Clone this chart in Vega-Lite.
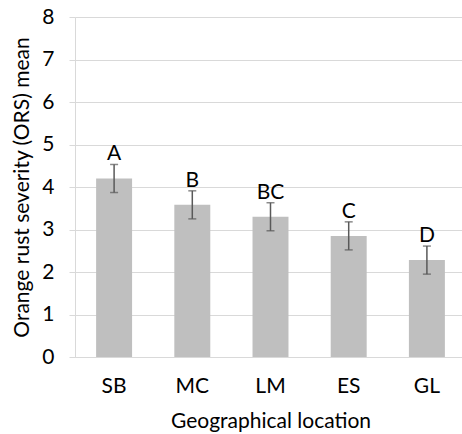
{
  "$schema": "https://vega.github.io/schema/vega-lite/v6.json",
  "width": 387,
  "height": 340,
  "autosize": "none",
  "padding": {"left": 75, "top": 17, "right": 0, "bottom": 77},
  "background": "white",
  "config": {
    "font": "Lato",
    "view": {"stroke": null},
    "axis": {
      "labelFontSize": 21,
      "labelColor": "#000000",
      "titleFontSize": 21,
      "titleFontWeight": "normal",
      "titleColor": "#000000",
      "domainColor": "#d9d9d9",
      "tickColor": "#d9d9d9",
      "gridColor": "#d9d9d9"
    }
  },
  "data": {
    "values": [
      {"location": "SB", "mean": 4.2, "lower": 3.87, "upper": 4.53, "group": "A"},
      {"location": "MC", "mean": 3.58, "lower": 3.25, "upper": 3.91, "group": "B"},
      {"location": "LM", "mean": 3.3, "lower": 2.97, "upper": 3.63, "group": "BC"},
      {"location": "ES", "mean": 2.85, "lower": 2.52, "upper": 3.18, "group": "C"},
      {"location": "GL", "mean": 2.28, "lower": 1.95, "upper": 2.61, "group": "D"}
    ]
  },
  "encoding": {
    "x": {
      "field": "location",
      "type": "nominal",
      "sort": null,
      "scale": {"range": [0, 391], "paddingInner": 0.54, "paddingOuter": 0.27},
      "axis": {
        "title": "Geographical location",
        "labelAngle": 0,
        "ticks": false,
        "labelPadding": 18,
        "titlePadding": 14
      }
    }
  },
  "layer": [
    {
      "mark": {"type": "bar", "color": "#bfbfbf"},
      "encoding": {
        "y": {
          "field": "mean",
          "type": "quantitative",
          "scale": {"domain": [0, 8], "nice": false},
          "axis": {
            "title": "Orange rust severity (ORS) mean",
            "values": [0, 1, 2, 3, 4, 5, 6, 7, 8],
            "grid": true,
            "tickSize": 6,
            "labelPadding": 15,
            "titlePadding": 9
          }
        }
      }
    },
    {
      "mark": {"type": "rule", "color": "#595959", "strokeWidth": 1.5},
      "encoding": {
        "y": {"field": "lower", "type": "quantitative"},
        "y2": {"field": "upper"}
      }
    },
    {
      "mark": {"type": "tick", "color": "#595959", "size": 8, "thickness": 1.5},
      "encoding": {"y": {"field": "lower", "type": "quantitative"}}
    },
    {
      "mark": {"type": "tick", "color": "#595959", "size": 8, "thickness": 1.5},
      "encoding": {"y": {"field": "upper", "type": "quantitative"}}
    },
    {
      "mark": {"type": "text", "fontSize": 21, "color": "#000000", "baseline": "alphabetic", "dy": -4},
      "encoding": {
        "y": {"field": "upper", "type": "quantitative"},
        "text": {"field": "group"}
      }
    }
  ]
}
